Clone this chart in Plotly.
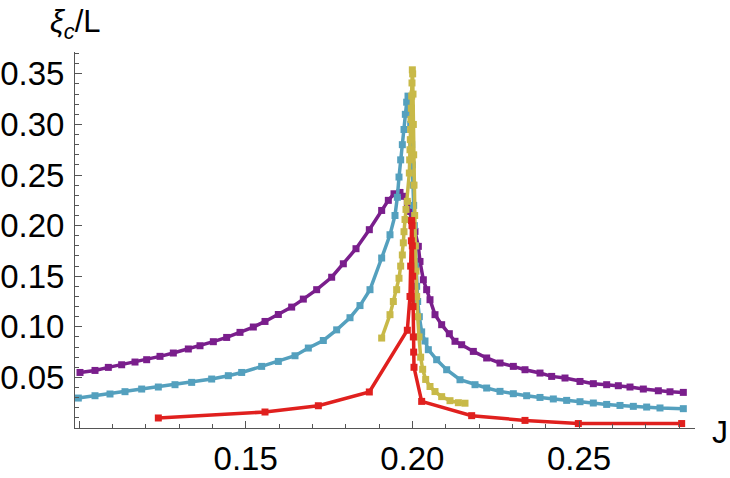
import plotly.graph_objects as go

# ---- data ----
purple_x = [0.1003, 0.1048, 0.1088, 0.1128, 0.1168, 0.1203, 0.1243, 0.1283, 0.1328, 0.1363,
            0.1403, 0.1443, 0.1483, 0.1523, 0.1558, 0.1598, 0.1638, 0.1673, 0.1713, 0.1758,
            0.1793, 0.1831, 0.1871, 0.1908, 0.1928, 0.1945, 0.1963, 0.1975, 0.1985, 0.1992,
            0.1998, 0.2003, 0.2008, 0.2018, 0.2023, 0.2033, 0.2043, 0.2053, 0.2068, 0.2088,
            0.2111, 0.2128, 0.2148, 0.2183, 0.2223, 0.2263, 0.2303, 0.2338, 0.2383, 0.2418,
            0.2458, 0.2503, 0.2543, 0.2583, 0.2618, 0.2653, 0.2693, 0.2738, 0.2773, 0.2813]
purple_y = [0.0549, 0.0569, 0.0599, 0.0625, 0.0652, 0.0675, 0.0708, 0.0741, 0.0781, 0.0813,
            0.0853, 0.0895, 0.0945, 0.0998, 0.1053, 0.1122, 0.1195, 0.1274, 0.1367, 0.1490,
            0.1623, 0.1772, 0.1960, 0.2150, 0.2250, 0.2315, 0.2328, 0.2290, 0.2220, 0.2140,
            0.2050, 0.1990, 0.1943, 0.1795, 0.1646, 0.1465, 0.1367, 0.1268, 0.1120, 0.1021,
            0.0932, 0.0857, 0.0823, 0.0757, 0.0692, 0.0642, 0.0609, 0.0576, 0.0543, 0.0510,
            0.0494, 0.0460, 0.0438, 0.0428, 0.0418, 0.0405, 0.0385, 0.0368, 0.0358, 0.0352]

blue_x = [0.0998, 0.1048, 0.1093, 0.1138, 0.1188, 0.1238, 0.1288, 0.1338, 0.1398, 0.1448,
          0.1488, 0.1548, 0.1598, 0.1648, 0.1688, 0.1733, 0.1773, 0.1813, 0.1843, 0.1873,
          0.1908, 0.1933, 0.1948, 0.1955, 0.1960, 0.1965, 0.1970, 0.1975, 0.1979, 0.1983,
          0.1987, 0.1992, 0.1995, 0.1998, 0.2000, 0.2002, 0.2004, 0.2006, 0.2008, 0.2010,
          0.2013, 0.2016, 0.2021, 0.2028, 0.2038, 0.2048, 0.2073, 0.2103, 0.2143, 0.2188,
          0.2223, 0.2263, 0.2303, 0.2343, 0.2383, 0.2423, 0.2463, 0.2503, 0.2543, 0.2583,
          0.2623, 0.2663, 0.2703, 0.2743, 0.2813]
blue_y = [0.0296, 0.0319, 0.0336, 0.0359, 0.0385, 0.0405, 0.0428, 0.0451, 0.0484, 0.0517,
          0.0549, 0.0609, 0.0658, 0.0714, 0.0790, 0.0865, 0.0970, 0.1090, 0.1210, 0.1367,
          0.1680, 0.1910, 0.2100, 0.2280, 0.2480, 0.2650, 0.2800, 0.2950, 0.3100, 0.3220,
          0.3280, 0.3150, 0.3000, 0.2800, 0.2600, 0.2400, 0.2200, 0.2000, 0.1800, 0.1600,
          0.1400, 0.1250, 0.1100, 0.0950, 0.0860, 0.0774, 0.0675, 0.0576, 0.0477, 0.0428,
          0.0395, 0.0362, 0.0339, 0.0319, 0.0302, 0.0287, 0.0273, 0.0260, 0.0247, 0.0233,
          0.0223, 0.0214, 0.0207, 0.0198, 0.0191]

yellow_x = [0.1908, 0.1933, 0.1943, 0.1953, 0.1960, 0.1965, 0.1970, 0.1973, 0.1975, 0.1978,
            0.1981, 0.1985, 0.1991, 0.1992, 0.1993, 0.1994, 0.1995, 0.1996, 0.1997, 0.1998,
            0.1999, 0.2000, 0.2001, 0.2002, 0.2003, 0.2004, 0.2005, 0.2007, 0.2009, 0.2011,
            0.2013, 0.2016, 0.2020, 0.2025, 0.2031, 0.2040, 0.2053, 0.2068, 0.2088, 0.2113,
            0.2138, 0.2158]
yellow_y = [0.0889, 0.1120, 0.1250, 0.1367, 0.1480, 0.1600, 0.1710, 0.1830, 0.1940, 0.2060,
            0.2160, 0.2240, 0.2520, 0.2650, 0.2750, 0.2850, 0.2950, 0.3050, 0.3160, 0.3280,
            0.3410, 0.3540, 0.3500, 0.3300, 0.3000, 0.2700, 0.2400, 0.2100, 0.1800, 0.1550,
            0.1300, 0.1100, 0.0900, 0.0700, 0.0580, 0.0480, 0.0410, 0.0360, 0.0310, 0.0270,
            0.0250, 0.0245]

red_x = [0.1238, 0.1558, 0.1718, 0.1871, 0.1985, 0.1993, 0.1995, 0.1997, 0.1998, 0.1999,
         0.2000, 0.2001, 0.2002, 0.2003, 0.2004, 0.2005, 0.2028, 0.2178, 0.2338, 0.2498,
         0.2808]
red_y = [0.0099, 0.0158, 0.0220, 0.0356, 0.0966, 0.1300, 0.1600, 0.1850, 0.2050, 0.2000,
         0.1800, 0.1500, 0.1200, 0.0900, 0.0750, 0.0600, 0.0263, 0.0122, 0.0075, 0.0044,
         0.0044]

x_tickvals = [0.10, 0.15, 0.20, 0.25]
x_ticktext = ["", "0.15", "0.20", "0.25"]
y_tickvals = [0.05, 0.10, 0.15, 0.20, 0.25, 0.30, 0.35]
y_ticktext = ["0.05", "0.10", "0.15", "0.20", "0.25", "0.30", "0.35"]

series = [
    (purple_x, purple_y, "rgb(122,30,140)"),
    (blue_x, blue_y, "rgb(84,160,190)"),
    (yellow_x, yellow_y, "rgb(200,185,72)"),
    (red_x, red_y, "rgb(224,32,30)"),
]

fig = go.Figure()
for xs, ys, col in series:
    fig.add_trace(go.Scatter(
        x=xs, y=ys, mode="lines+markers",
        line=dict(color=col, width=3.5),
        marker=dict(symbol="square", size=7, color=col),
        cliponaxis=False, showlegend=False,
    ))

font_family = "Liberation Sans, Arial, sans-serif"
axis_col = "#555555"

fig.update_layout(
    width=730, height=478,
    margin=dict(l=75, r=35, t=52, b=50),
    paper_bgcolor="white", plot_bgcolor="white",
    font=dict(family=font_family, color="black"),
    xaxis=dict(
        range=[0.0988, 0.2848], showgrid=False, zeroline=False, automargin=False,
        showline=True, linecolor=axis_col, linewidth=1,
        tickvals=x_tickvals, ticktext=x_ticktext,
        ticks="inside", ticklen=7, tickcolor=axis_col, tickwidth=1,
        minor=dict(ticks="inside", ticklen=4, dtick=0.01, tick0=0.10, tickcolor=axis_col, showgrid=False),
        tickfont=dict(size=33, family=font_family, color="black"),
        ticklabelstandoff=1,
    ),
    yaxis=dict(
        range=[0, 0.3716], showgrid=False, zeroline=False, automargin=False,
        showline=True, linecolor=axis_col, linewidth=1,
        tickvals=y_tickvals, ticktext=y_ticktext,
        ticks="inside", ticklen=7, tickcolor=axis_col, tickwidth=1,
        minor=dict(ticks="inside", ticklen=4, dtick=0.01, tick0=0, tickcolor=axis_col, showgrid=False),
        tickfont=dict(size=33, family=font_family, color="black"),
        ticklabelstandoff=3,
    ),
    annotations=[
        dict(text="<i>ξ</i><sub><i>c</i></sub>/L", xref="paper", yref="paper",
             x=0.0, y=1.075, xanchor="center", yanchor="middle", showarrow=False,
             font=dict(size=31, family=font_family, color="black")),
        dict(text="J", xref="paper", yref="paper",
             x=1.040, y=-0.011, xanchor="center", yanchor="middle", showarrow=False,
             font=dict(size=32, family=font_family, color="black")),
    ],
)

fig.write_html("out.html")
